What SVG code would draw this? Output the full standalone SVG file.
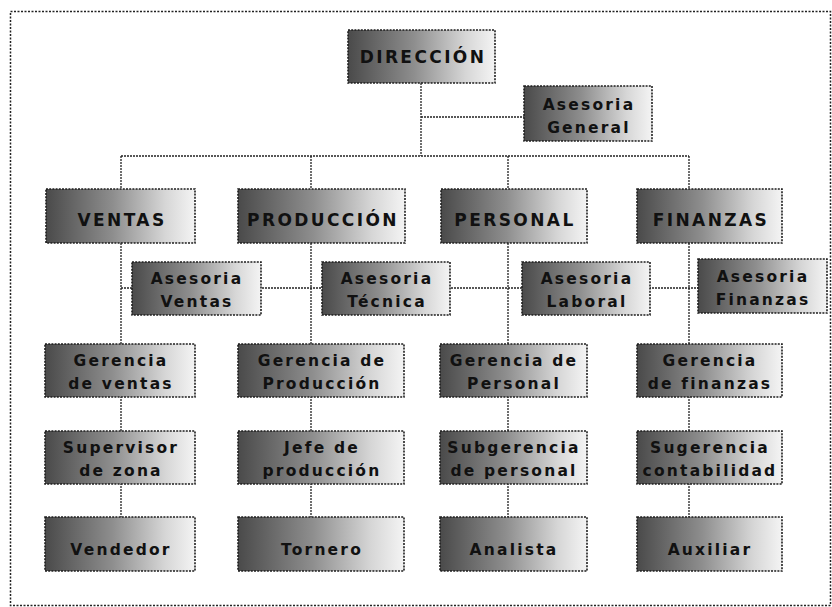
<svg xmlns="http://www.w3.org/2000/svg" width="832" height="607" viewBox="0 0 832 607">
  <defs>
    <linearGradient id="boxFill" x1="0" y1="0" x2="1" y2="0">
      <stop offset="0" stop-color="#4a4a4a"/>
      <stop offset="0.45" stop-color="#8e8e8e"/>
      <stop offset="0.8" stop-color="#d6d6d6"/>
      <stop offset="1" stop-color="#f4f4f4"/>
    </linearGradient>
  </defs>
  <style>
    .frame { fill: none; stroke: #222; stroke-width: 1.5; stroke-dasharray: 2 1.5; }
    .box rect { fill: url(#boxFill); stroke: #1e1e1e; stroke-width: 1.6; stroke-dasharray: 2 1.2; }
    .box text { font-family: "DejaVu Sans", Verdana, sans-serif; font-weight: bold; font-size: 15.5px; fill: #111; text-anchor: middle; letter-spacing: 2.2px; }
    .box text.caps { font-size: 17px; letter-spacing: 2.4px; }
    #connectors line { stroke: #222; stroke-width: 1.3; stroke-dasharray: 2 1; }
  </style>

  <rect width="832" height="607" fill="#ffffff"/>
  <rect class="frame" x="10.5" y="11.5" width="820" height="594"/>

  <!-- connectors -->
  <g id="connectors">
    <line x1="421" y1="83" x2="421" y2="156"/>
    <line x1="421" y1="117" x2="524" y2="117"/>
    <line x1="121" y1="156" x2="689" y2="156"/>
    <line x1="121" y1="156" x2="121" y2="517"/>
    <line x1="311" y1="156" x2="311" y2="517"/>
    <line x1="508" y1="156" x2="508" y2="517"/>
    <line x1="689" y1="156" x2="689" y2="517"/>
    <line x1="121" y1="288" x2="698" y2="288"/>
  </g>

  <!-- top level -->
  <g id="direccion" class="box">
    <rect x="348" y="30" width="147" height="53"/>
    <text class="caps" x="423" y="63">DIRECCIÓN</text>
  </g>
  <g id="asesoria-general" class="box">
    <rect x="524" y="86" width="128" height="55"/>
    <text x="589" y="110">Asesoria</text>
    <text x="589" y="133">General</text>
  </g>

  <!-- departments -->
  <g id="ventas" class="box">
    <rect x="46" y="189" width="149" height="54"/>
    <text class="caps" x="122" y="226">VENTAS</text>
  </g>
  <g id="produccion" class="box">
    <rect x="238" y="189" width="167" height="54"/>
    <text class="caps" x="323" y="226">PRODUCCIÓN</text>
  </g>
  <g id="personal" class="box">
    <rect x="441" y="189" width="146" height="54"/>
    <text class="caps" x="515" y="226">PERSONAL</text>
  </g>
  <g id="finanzas" class="box">
    <rect x="637" y="189" width="145" height="54"/>
    <text class="caps" x="711" y="226">FINANZAS</text>
  </g>

  <!-- advisory units -->
  <g id="asesoria-ventas" class="box">
    <rect x="132" y="262" width="129" height="53"/>
    <text x="197" y="284">Asesoria</text>
    <text x="197" y="307">Ventas</text>
  </g>
  <g id="asesoria-tecnica" class="box">
    <rect x="322" y="262" width="128" height="53"/>
    <text x="387" y="284">Asesoria</text>
    <text x="387" y="307">Técnica</text>
  </g>
  <g id="asesoria-laboral" class="box">
    <rect x="522" y="262" width="128" height="53"/>
    <text x="587" y="284">Asesoria</text>
    <text x="587" y="307">Laboral</text>
  </g>
  <g id="asesoria-finanzas" class="box">
    <rect x="698" y="259" width="129" height="54"/>
    <text x="763" y="282">Asesoria</text>
    <text x="763" y="305">Finanzas</text>
  </g>

  <!-- management -->
  <g id="gerencia-ventas" class="box">
    <rect x="45" y="344" width="150" height="53"/>
    <text x="121" y="366">Gerencia</text>
    <text x="121" y="389">de ventas</text>
  </g>
  <g id="gerencia-produccion" class="box">
    <rect x="238" y="344" width="166" height="53"/>
    <text x="322" y="366">Gerencia de</text>
    <text x="322" y="389">Producción</text>
  </g>
  <g id="gerencia-personal" class="box">
    <rect x="440" y="344" width="147" height="53"/>
    <text x="514" y="366">Gerencia de</text>
    <text x="514" y="389">Personal</text>
  </g>
  <g id="gerencia-finanzas" class="box">
    <rect x="637" y="344" width="145" height="53"/>
    <text x="710" y="366">Gerencia</text>
    <text x="710" y="389">de finanzas</text>
  </g>

  <!-- third level -->
  <g id="supervisor-zona" class="box">
    <rect x="45" y="431" width="150" height="53"/>
    <text x="121" y="453">Supervisor</text>
    <text x="121" y="476">de zona</text>
  </g>
  <g id="jefe-produccion" class="box">
    <rect x="238" y="431" width="166" height="53"/>
    <text x="322" y="453">Jefe de</text>
    <text x="322" y="476">producción</text>
  </g>
  <g id="subgerencia-personal" class="box">
    <rect x="440" y="431" width="147" height="53"/>
    <text x="514" y="453">Subgerencia</text>
    <text x="514" y="476">de personal</text>
  </g>
  <g id="sugerencia-contabilidad" class="box">
    <rect x="637" y="431" width="145" height="53"/>
    <text x="710" y="453">Sugerencia</text>
    <text x="710" y="476">contabilidad</text>
  </g>

  <!-- staff -->
  <g id="vendedor" class="box">
    <rect x="45" y="517" width="150" height="54"/>
    <text x="121" y="555">Vendedor</text>
  </g>
  <g id="tornero" class="box">
    <rect x="238" y="517" width="166" height="54"/>
    <text x="322" y="555">Tornero</text>
  </g>
  <g id="analista" class="box">
    <rect x="440" y="517" width="147" height="54"/>
    <text x="514" y="555">Analista</text>
  </g>
  <g id="auxiliar" class="box">
    <rect x="637" y="517" width="145" height="54"/>
    <text x="710" y="555">Auxiliar</text>
  </g>
</svg>
